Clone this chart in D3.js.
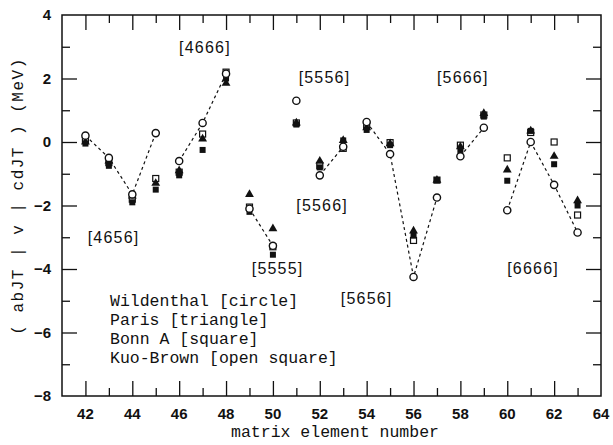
<!DOCTYPE html>
<html>
<head>
<meta charset="utf-8">
<script src="https://cdn.jsdelivr.net/npm/d3@7"></script>
<style>
  body { margin: 0; background: #fff; }
  .tick-lbl { font-family: "Liberation Sans", Arial, sans-serif; font-weight: bold; font-size: 15px; fill: #111; }
  .mono { font-family: "Liberation Mono", "DejaVu Sans Mono", monospace; fill: #111; }
  .tag { font-family: "Liberation Sans", Arial, sans-serif; font-size: 16px; letter-spacing: 1.2px; fill: #111; }
</style>
</head>
<body>
<svg id="chart" width="613" height="445"></svg>
<script>
// matrix element numbers 42..63
var elements = [42, 43, 44, 45, 46, 47, 48, 49, 50, 51, 52, 53, 54, 55, 56, 57, 58, 59, 60, 61, 62, 63];

var wildenthal = [0.2, -0.5, -1.65, 0.28, -0.6, 0.6, 2.15, -2.1, -3.27, 1.3, -1.05, -0.15, 0.63, -0.38, -4.25, -1.75, -0.45, 0.45, -2.15, 0.0, -1.35, -2.85];
var paris      = [0.0, -0.6, -1.7, -1.3, -0.9, 0.1, 1.85, -1.65, -2.73, 0.6, -0.6, 0.05, 0.45, -0.05, -2.8, -1.2, -0.15, 0.9, -0.88, 0.35, -0.45, -1.85];
var bonnA      = [-0.05, -0.75, -1.9, -1.5, -1.05, -0.25, 2.0, -2.2, -3.55, 0.55, -0.8, 0.05, 0.38, -0.1, -2.95, -1.2, -0.25, 0.8, -1.22, 0.35, -0.7, -2.0];
var kuoBrown   = [0.05, -0.65, -1.8, -1.15, -0.95, 0.25, 2.2, -2.05, -3.3, 0.6, -0.75, -0.2, 0.5, -0.02, -3.1, -1.2, -0.1, 0.85, -0.5, 0.3, 0.0, -2.3];

// runs of Wildenthal points joined by dashed lines (first, last element)
var groups = [[42, 45], [46, 48], [49, 50], [52, 53], [54, 57], [58, 59], [60, 63]];

// orbit labels and where they sit (data coords)
var tagText = ["[4656]", "[4666]", "[5555]", "[5556]", "[5566]", "[5656]", "[5666]", "[6666]"];
var tagX    = [43.2, 47.1, 50.2, 52.2, 52.1, 54.0, 58.1, 61.1];
var tagY    = [-3.0, 3.0, -3.97, 2.05, -1.99, -4.92, 2.05, -3.97];

var legendLines = ["Wildenthal [circle]", "Paris [triangle]", "Bonn A [square]", "Kuo-Brown [open square]"];

var xTicks = [42, 44, 46, 48, 50, 52, 54, 56, 58, 60, 62, 64];
var yTicks = [4, 2, 0, -2, -4, -6, -8];

var svg = d3.select("#chart"),
    margin = { top: 15, right: 12, bottom: 49, left: 62 },
    width = +svg.attr("width") - margin.left - margin.right,
    height = +svg.attr("height") - margin.top - margin.bottom,
    g = svg.append("g").attr("transform", "translate(" + margin.left + "," + margin.top + ")");

var x = d3.scaleLinear().domain([41, 64]).range([0, width]);
var y = d3.scaleLinear().domain([-8, 4]).range([height, 0]);

var minorX = d3.range(42, 64, 1);
var minorY = d3.range(-7, 4, 1);

function fmt(d) { return d < 0 ? "\u2212" + Math.abs(d) : d; }

// frame ticks, pointing inward, on all four sides
function tickLen(d) { return d % 2 === 0 ? 15 : 8; }

g.append("g")
    .attr("transform", "translate(0," + height + ")")
    .call(d3.axisBottom(x).tickValues(minorX).tickSizeInner(0).tickSizeOuter(0).tickFormat(""))
    .call(function (a) {
        a.select(".domain").remove();
        a.selectAll(".tick line").attr("y2", function (d) { return -tickLen(d); }).attr("stroke", "#111").attr("stroke-width", 1.3);
    });
g.append("g")
    .call(d3.axisTop(x).tickValues(minorX).tickSizeInner(0).tickSizeOuter(0).tickFormat(""))
    .call(function (a) {
        a.select(".domain").remove();
        a.selectAll(".tick line").attr("y2", function (d) { return tickLen(d); }).attr("stroke", "#111").attr("stroke-width", 1.3);
    });
g.append("g")
    .call(d3.axisLeft(y).tickValues(minorY).tickSizeInner(0).tickSizeOuter(0).tickFormat(""))
    .call(function (a) {
        a.select(".domain").remove();
        a.selectAll(".tick line").attr("x2", function (d) { return tickLen(d); }).attr("stroke", "#111").attr("stroke-width", 1.3);
    });
g.append("g")
    .attr("transform", "translate(" + width + ",0)")
    .call(d3.axisRight(y).tickValues(minorY).tickSizeInner(0).tickSizeOuter(0).tickFormat(""))
    .call(function (a) {
        a.select(".domain").remove();
        a.selectAll(".tick line").attr("x2", function (d) { return -tickLen(d); }).attr("stroke", "#111").attr("stroke-width", 1.3);
    });

g.append("rect")
    .attr("width", width).attr("height", height)
    .attr("fill", "none").attr("stroke", "#111").attr("stroke-width", 1.5);

// tick labels
g.selectAll(".xl").data(xTicks).enter().append("text")
    .attr("class", "tick-lbl")
    .attr("x", function (d) { return x(d); })
    .attr("y", height + 23)
    .attr("text-anchor", "middle")
    .text(fmt);

g.selectAll(".yl").data(yTicks).enter().append("text")
    .attr("class", "tick-lbl")
    .attr("x", -11)
    .attr("y", function (d) { return y(d) + 5; })
    .attr("text-anchor", "end")
    .text(fmt);

// axis titles
svg.append("text")
    .attr("class", "mono")
    .attr("x", 335).attr("y", 437)
    .attr("text-anchor", "middle")
    .style("font-size", "16.5px")
    .text("matrix element number");

svg.append("text")
    .attr("class", "mono")
    .attr("transform", "translate(23,196) rotate(-90)")
    .attr("text-anchor", "middle")
    .style("font-size", "16px")
    .style("letter-spacing", "1.5px")
    .text("( abJT | v | cdJT ) (MeV)");

// dashed lines through Wildenthal values
var line = d3.line()
    .x(function (d) { return x(d); })
    .y(function (d) { return y(wildenthal[elements.indexOf(d)]); });

g.selectAll(".run").data(groups).enter().append("path")
    .attr("fill", "none")
    .attr("stroke", "#111")
    .attr("stroke-width", 1.2)
    .attr("stroke-dasharray", "3,3")
    .attr("d", function (r) { return line(d3.range(r[0], r[1] + 1)); });

// Kuo-Brown open squares
g.selectAll(".kb").data(elements).enter().append("rect")
    .attr("x", function (d) { return x(d) - 3; })
    .attr("y", function (d, i) { return y(kuoBrown[i]) - 3; })
    .attr("width", 6).attr("height", 6)
    .attr("fill", "#fff").attr("stroke", "#111").attr("stroke-width", 1.2);

// Bonn A filled squares
g.selectAll(".bonn").data(elements).enter().append("rect")
    .attr("x", function (d) { return x(d) - 3; })
    .attr("y", function (d, i) { return y(bonnA[i]) - 3; })
    .attr("width", 6).attr("height", 6)
    .attr("fill", "#111");

// Paris triangles
var tri = d3.symbol().type(d3.symbolTriangle).size(34);
g.selectAll(".paris").data(elements).enter().append("path")
    .attr("transform", function (d, i) { return "translate(" + x(d) + "," + y(paris[i]) + ")"; })
    .attr("d", tri)
    .attr("fill", "#111");

// Wildenthal circles
g.selectAll(".wild").data(elements).enter().append("circle")
    .attr("cx", function (d) { return x(d); })
    .attr("cy", function (d, i) { return y(wildenthal[i]); })
    .attr("r", 3.6)
    .attr("fill", "#fff").attr("stroke", "#111").attr("stroke-width", 1.4);

// orbit labels
g.selectAll(".tag").data(tagText).enter().append("text")
    .attr("class", "tag")
    .attr("x", function (d, i) { return x(tagX[i]); })
    .attr("y", function (d, i) { return y(tagY[i]); })
    .attr("dy", "0.36em")
    .attr("text-anchor", "middle")
    .text(function (d) { return d; });

// legend (text only, like the original)
svg.selectAll(".leg").data(legendLines).enter().append("text")
    .attr("class", "mono")
    .attr("x", 110)
    .attr("y", function (d, i) { return 306 + i * 19; })
    .style("font-size", "16.5px")
    .text(function (d) { return d; });
</script>
</body>
</html>
